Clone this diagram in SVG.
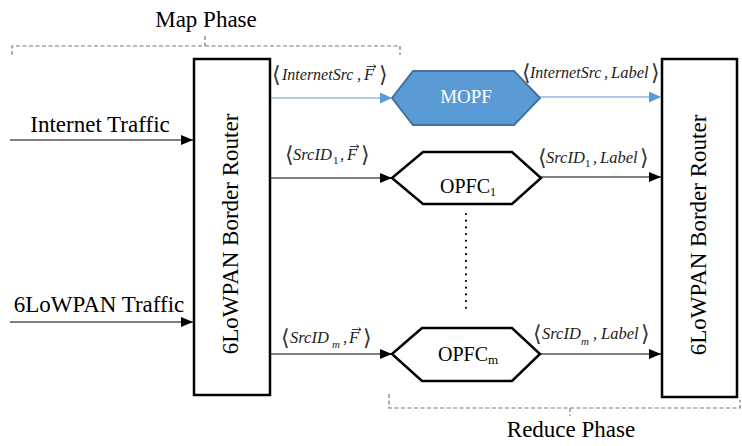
<svg xmlns="http://www.w3.org/2000/svg" width="742" height="446" viewBox="0 0 742 446">
<defs>
<marker id="ab" viewBox="0 0 12 10" refX="12" refY="5" markerWidth="12" markerHeight="10" markerUnits="userSpaceOnUse" orient="auto"><path d="M0,0 L12,5 L0,10 z" fill="#000"/></marker>
<marker id="au" viewBox="0 0 12 11" refX="12" refY="5.5" markerWidth="12" markerHeight="11" markerUnits="userSpaceOnUse" orient="auto"><path d="M0,0 L12,5.5 L0,11 z" fill="#5B9BD5"/></marker>
<style>
.t{font-family:"Liberation Serif","Times New Roman",serif;font-size:23px;fill:#000}
.lb{font-family:"Liberation Serif","Times New Roman",serif;font-size:16.5px;font-style:italic;fill:#222}
.br{font-family:"DejaVu Serif","Liberation Serif",serif;font-style:normal;font-size:22px;fill:#333}
.vec{stroke:#222;stroke-width:0.9;fill:none}
.sub{font-family:"Liberation Serif",serif;font-size:11px;fill:#222}
.box{fill:#fff;stroke:#000;stroke-width:2.5}
.hex{fill:#fff;stroke:#000;stroke-width:2.5}
.c{stroke:#000;stroke-width:1;fill:none}
.cb{stroke:#5B9BD5;stroke-width:1.2;fill:none}
.dash{stroke:#777;stroke-width:1.2;fill:none;stroke-dasharray:4 2.5}
</style>
</defs>
<g id="map-phase">
<path class="dash" d="M12,55 V46 H205 V36 M205,46 H400 V55"/>
<text class="t" x="206" y="27" text-anchor="middle">Map Phase</text>
</g>
<g id="reduce-phase">
<path class="dash" d="M389,394 V408 H570 V416 M570,408 H740 V400"/>
<text class="t" x="571" y="437" text-anchor="middle">Reduce Phase</text>
</g>
<g id="router-left">
<rect class="box" x="194" y="59" width="76" height="336"/>
<text class="t" transform="translate(238,234) rotate(-90)" text-anchor="middle">6LoWPAN Border Router</text>
</g>
<g id="router-right">
<rect class="box" x="662" y="59" width="75" height="338"/>
<text class="t" transform="translate(706,235) rotate(-90)" text-anchor="middle">6LoWPAN Border Router</text>
</g>
<g id="mopf">
<polygon points="392,98 413,71 514,71 540,98 514,125 413,125" fill="#5B9BD5" stroke="#41719C" stroke-width="2"/>
<text class="t" x="466" y="103" text-anchor="middle" style="fill:#fff;font-size:19px">MOPF</text>
</g>
<g id="opfc1">
<polygon class="hex" points="392,178 423,152 512,152 541,178 512,204 423,204"/>
<text class="t" x="440" y="193" style="font-size:20px">OPFC<tspan style="font-size:12px" dy="3">1</tspan></text>
</g>
<g id="opfcm">
<polygon class="hex" points="392,354 422,328 512,328 540,354 512,381 422,381"/>
<text class="t" x="438" y="361" style="font-size:20px">OPFC<tspan style="font-size:13px" dy="3">m</tspan></text>
</g>
<g id="ellipsis">
<line x1="466" y1="214" x2="466" y2="308" stroke="#000" stroke-width="2.2" stroke-linecap="round" stroke-dasharray="0 6.7"/>
</g>
<g id="inputs">
<text class="t" x="100" y="132" text-anchor="middle">Internet Traffic</text>
<text class="t" x="99" y="312" text-anchor="middle">6LoWPAN Traffic</text>
</g>
<g id="connectors">
<line class="c" x1="10" y1="140" x2="193" y2="140" marker-end="url(#ab)"/>
<line class="c" x1="10" y1="322" x2="193" y2="322" marker-end="url(#ab)"/>
<line class="cb" x1="271" y1="98" x2="392" y2="98" marker-end="url(#au)"/>
<line class="cb" x1="540" y1="97" x2="661" y2="97" marker-end="url(#au)"/>
<line class="c" x1="271" y1="178" x2="392" y2="178" marker-end="url(#ab)"/>
<line class="c" x1="541" y1="177" x2="661" y2="177" marker-end="url(#ab)"/>
<line class="c" x1="271" y1="354" x2="392" y2="354" marker-end="url(#ab)"/>
<line class="c" x1="540" y1="354" x2="661" y2="354" marker-end="url(#ab)"/>
</g>
<g id="label-internet-f">
<text class="br" x="272" y="82">⟨</text>
<text class="lb" x="282" y="80" style="font-size:16px">InternetSrc</text>
<text class="lb" x="357" y="80">,</text>
<text class="lb" x="364" y="80">F</text>
<path class="vec" d="M367,66.5 H376 M373.5,64.5 L376,66.5 L373.5,68.5"/>
<text class="br" x="379" y="82">⟩</text>
</g>
<g id="label-internet-label">
<text class="br" x="522" y="80">⟨</text>
<text class="lb" x="530" y="78" style="font-size:16px">InternetSrc</text>
<text class="lb" x="604" y="78">,</text>
<text class="lb" x="611" y="78">Label</text>
<text class="br" x="651" y="80">⟩</text>
</g>
<g id="label-src1-f">
<text class="br" x="285" y="162">⟨</text>
<text class="lb" x="293" y="160">SrcID</text>
<text class="sub" x="333" y="164">1</text>
<text class="lb" x="340" y="160">,</text>
<text class="lb" x="347" y="160">F</text>
<path class="vec" d="M350,146.5 H359 M356.5,144.5 L359,146.5 L356.5,148.5"/>
<text class="br" x="361" y="162">⟩</text>
</g>
<g id="label-src1-label">
<text class="br" x="538" y="165">⟨</text>
<text class="lb" x="546" y="163">SrcID</text>
<text class="sub" x="585" y="167">1</text>
<text class="lb" x="593" y="163">,</text>
<text class="lb" x="600" y="163">Label</text>
<text class="br" x="640" y="165">⟩</text>
</g>
<g id="label-srcm-f">
<text class="br" x="281" y="345">⟨</text>
<text class="lb" x="290" y="343">SrcID</text>
<text class="sub" x="332" y="348" style="font-style:italic">m</text>
<text class="lb" x="343" y="343">,</text>
<text class="lb" x="349" y="343">F</text>
<path class="vec" d="M352,329.5 H361 M358.5,327.5 L361,329.5 L358.5,331.5"/>
<text class="br" x="363" y="345">⟩</text>
</g>
<g id="label-srcm-label">
<text class="br" x="533" y="341">⟨</text>
<text class="lb" x="542" y="339">SrcID</text>
<text class="sub" x="581" y="345" style="font-style:italic">m</text>
<text class="lb" x="593" y="339">,</text>
<text class="lb" x="601" y="339">Label</text>
<text class="br" x="641" y="341">⟩</text>
</g>
</svg>
